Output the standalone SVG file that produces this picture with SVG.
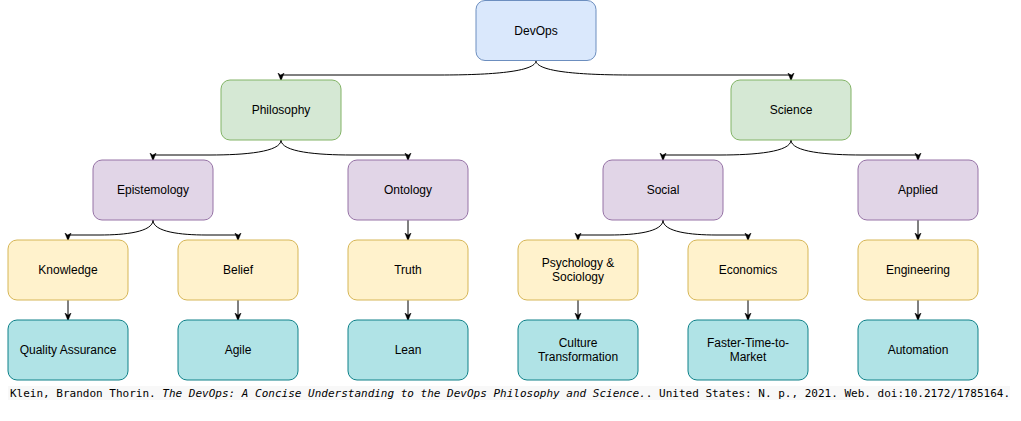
<svg xmlns="http://www.w3.org/2000/svg" width="1021" height="421" viewBox="0 0 1021 421">
<style>
.n rect{stroke-width:1}
.blue rect{fill:#dae8fc;stroke:#6c8ebf}
.green rect{fill:#d5e8d4;stroke:#82b366}
.purple rect{fill:#e1d5e7;stroke:#9673a6}
.yellow rect{fill:#fff2cc;stroke:#d6b656}
.teal rect{fill:#b0e3e6;stroke:#0e8088}
.n text{font-family:"Liberation Sans",Arial,sans-serif;font-size:12px;fill:#000;text-anchor:middle}
.e path{fill:none;stroke:#000;stroke-width:1;marker-end:url(#arr)}
.cite{font-family:"DejaVu Sans Mono",monospace;font-size:11px;fill:#000}
</style>
<defs>
<marker id="arr" viewBox="0 0 10 10" refX="9" refY="5" markerWidth="8" markerHeight="8" orient="auto" markerUnits="userSpaceOnUse">
<path d="M0,1 L10,5 L0,9 L3,5 z" fill="#000" stroke="#000" stroke-width="0.5"/>
</marker>
</defs>
<rect width="1021" height="421" fill="#fff"/>
<g id="connectors" class="e">
<path d="M536,60.5 C536,72 490,75 440,75 L281,75 L281,80"/>
<path d="M536,60.5 C536,72 582,75 632,75 L791,75 L791,80"/>
<path d="M281,140 C281,152 245,155 210,155 L153,155 L153,160"/>
<path d="M281,140 C281,152 317,155 352,155 L408,155 L408,160"/>
<path d="M791,140 C791,152 755,155 720,155 L663,155 L663,160"/>
<path d="M791,140 C791,152 827,155 862,155 L918,155 L918,160"/>
<path d="M153,220 C153,232 125,235 100,235 L68,235 L68,240"/>
<path d="M153,220 C153,232 181,235 206,235 L238,235 L238,240"/>
<path d="M408,220 L408,240"/>
<path d="M663,220 C663,232 635,235 610,235 L578,235 L578,240"/>
<path d="M663,220 C663,232 691,235 716,235 L748,235 L748,240"/>
<path d="M918,220 L918,240"/>
<path d="M68,300 L68,320"/>
<path d="M238,300 L238,320"/>
<path d="M408,300 L408,320"/>
<path d="M578,300 L578,320"/>
<path d="M748,300 L748,320"/>
<path d="M918,300 L918,320"/>
</g>
<g id="devops" class="n blue"><rect x="476" y="0.5" width="120" height="60" rx="9"/><text x="536" y="34.5">DevOps</text></g>
<g id="philosophy" class="n green"><rect x="221" y="80" width="120" height="60" rx="9"/><text x="281" y="114">Philosophy</text></g>
<g id="science" class="n green"><rect x="731" y="80" width="120" height="60" rx="9"/><text x="791" y="114">Science</text></g>
<g id="epistemology" class="n purple"><rect x="93" y="160" width="120" height="60" rx="9"/><text x="153" y="194">Epistemology</text></g>
<g id="ontology" class="n purple"><rect x="348" y="160" width="120" height="60" rx="9"/><text x="408" y="194">Ontology</text></g>
<g id="social" class="n purple"><rect x="603" y="160" width="120" height="60" rx="9"/><text x="663" y="194">Social</text></g>
<g id="applied" class="n purple"><rect x="858" y="160" width="120" height="60" rx="9"/><text x="918" y="194">Applied</text></g>
<g id="knowledge" class="n yellow"><rect x="8" y="240" width="120" height="60" rx="9"/><text x="68" y="274">Knowledge</text></g>
<g id="belief" class="n yellow"><rect x="178" y="240" width="120" height="60" rx="9"/><text x="238" y="274">Belief</text></g>
<g id="truth" class="n yellow"><rect x="348" y="240" width="120" height="60" rx="9"/><text x="408" y="274">Truth</text></g>
<g id="psychology" class="n yellow"><rect x="518" y="240" width="120" height="60" rx="9"/><text x="578" y="267">Psychology &amp;</text><text x="578" y="281">Sociology</text></g>
<g id="economics" class="n yellow"><rect x="688" y="240" width="120" height="60" rx="9"/><text x="748" y="274">Economics</text></g>
<g id="engineering" class="n yellow"><rect x="858" y="240" width="120" height="60" rx="9"/><text x="918" y="274">Engineering</text></g>
<g id="qa" class="n teal"><rect x="8" y="320" width="120" height="60" rx="9"/><text x="68" y="354">Quality Assurance</text></g>
<g id="agile" class="n teal"><rect x="178" y="320" width="120" height="60" rx="9"/><text x="238" y="354">Agile</text></g>
<g id="lean" class="n teal"><rect x="348" y="320" width="120" height="60" rx="9"/><text x="408" y="354">Lean</text></g>
<g id="culture" class="n teal"><rect x="518" y="320" width="120" height="60" rx="9"/><text x="578" y="347">Culture</text><text x="578" y="361">Transformation</text></g>
<g id="faster" class="n teal"><rect x="688" y="320" width="120" height="60" rx="9"/><text x="748" y="347">Faster-Time-to-</text><text x="748" y="361">Market</text></g>
<g id="automation" class="n teal"><rect x="858" y="320" width="120" height="60" rx="9"/><text x="918" y="354">Automation</text></g>
<g id="citation">
<rect x="8" y="386" width="1002" height="14" fill="#f8f8f8"/>
<text class="cite" x="10" y="397" xml:space="preserve">Klein, Brandon Thorin. <tspan font-style="italic">The DevOps: A Concise Understanding to the DevOps Philosophy and Science.</tspan>. United States: N. p., 2021. Web. doi:10.2172/1785164.</text>
</g>
</svg>
